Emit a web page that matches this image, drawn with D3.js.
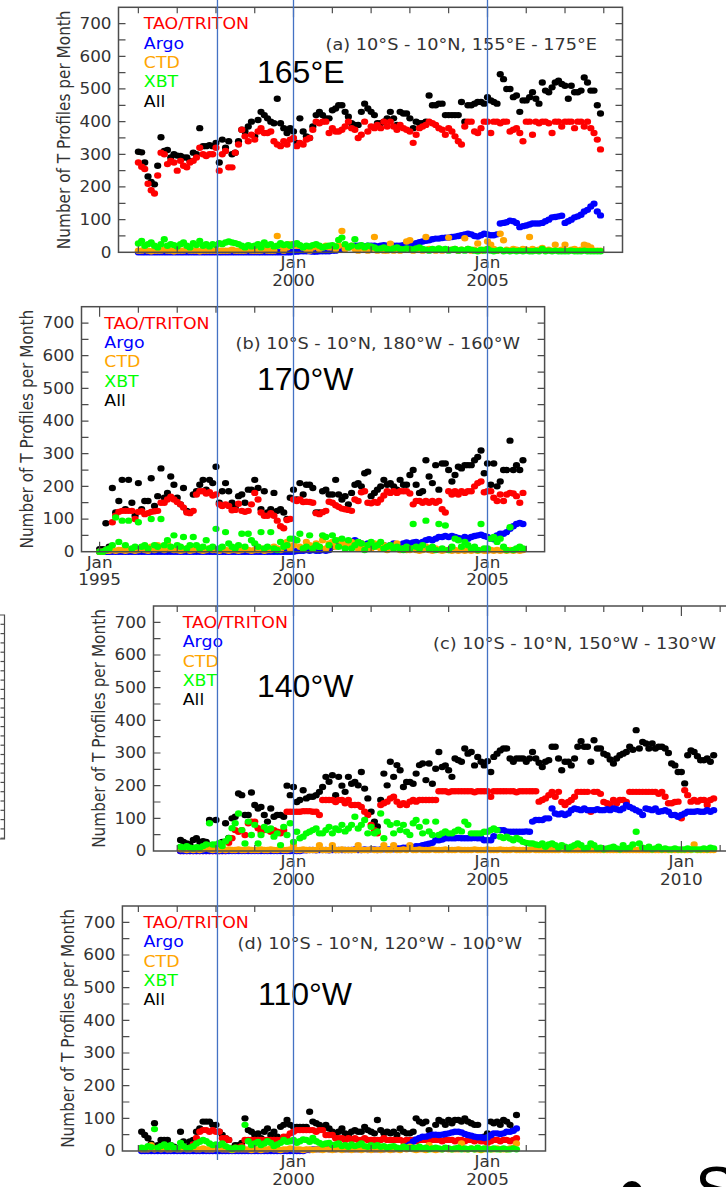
<!DOCTYPE html>
<html>
<head>
<meta charset="utf-8">
<script src="https://cdnjs.cloudflare.com/ajax/libs/d3/7.8.5/d3.min.js"></script>
<style>
  body { margin: 0; background: #fff; }
  svg { display: block; }
</style>
</head>
<body>
<div id="chart"></div>
<script>
// ---- data: monthly T-profile counts ----
// series order inside each panel: All, TAO/TRITON, Argo, CTD, XBT

// (a) 155E-175E, Jan 1996 ..
const startA = [1996, 0];
const allA = [308,306,275,232,215,208,265,352,310,313,290,300,
  296,295,290,290,280,305,300,380,325,325,328,325,
  335,275,345,320,340,300,305,340,375,370,385,400,
  355,405,430,420,410,400,395,470,395,380,365,380,
  370,335,410,370,355,350,385,420,430,420,410,410,
  435,440,450,450,430,415,395,390,390,430,455,440,
  430,420,395,395,400,410,430,410,390,430,425,425,
  410,380,400,395,395,400,480,450,450,455,455,420,
  420,420,420,420,460,400,450,450,455,460,460,455,
  475,465,460,455,545,530,500,500,475,480,430,465,
  465,475,490,470,455,520,495,490,505,520,525,515,
  510,470,510,490,490,495,535,520,495,495,450,425];
const taoA = [275,262,255,210,190,180,235,305,300,270,280,275,
  250,280,265,260,275,280,290,320,300,295,300,300,
  320,250,300,310,260,260,305,330,375,355,340,360,
  345,370,380,365,365,370,340,330,325,340,330,345,
  350,325,335,330,345,350,375,400,395,400,400,365,
  380,370,370,375,385,400,380,375,350,360,400,370,
  385,380,390,380,400,385,400,385,375,390,380,375,
  370,335,360,380,385,390,400,395,390,380,375,360,
  380,370,355,340,330,385,400,400,370,365,380,400,
  400,365,400,400,395,400,400,370,375,380,365,340,
  400,400,360,400,395,400,400,395,365,400,400,385,
  400,400,400,380,400,400,385,400,380,365,345,315];
const argoA = [0,0,0,0,0,0,0,0,0,0,0,0,
  0,0,0,0,0,0,0,0,0,0,0,0,
  0,0,0,0,0,0,0,0,0,0,0,0,
  0,0,0,0,0,0,0,0,0,0,0,0,
  2,2,3,3,3,3,2,2,3,3,3,3,
  5,5,8,10,12,15,18,20,20,20,18,20,
  20,20,18,20,22,20,18,20,20,20,22,22,
  22,25,28,31,33,35,37,40,42,42,44,45,
  45,47,48,50,52,55,57,55,50,48,52,57,
  55,52,52,55,88,90,92,97,95,90,77,80,
  82,85,88,88,88,90,95,100,107,108,110,112,
  90,95,100,107,110,115,125,130,140,149,125,113];
const ctdA = [5,5,8,5,3,5,5,5,8,5,5,3,
  5,5,5,8,5,5,5,3,5,5,5,5,
  5,5,5,5,5,8,5,5,5,5,10,5,
  5,5,5,10,5,5,5,50,20,5,15,25,
  25,20,20,15,10,5,15,20,10,15,20,15,
  15,10,20,65,10,15,20,10,5,15,10,5,
  10,47,5,8,5,5,26,5,10,5,8,33,
  37,5,8,10,5,47,10,8,5,10,5,8,
  45,8,10,5,8,43,10,5,8,27,5,8,
  33,23,10,5,57,37,8,5,10,8,5,10,
  8,47,10,5,8,13,5,8,5,23,5,8,
  23,5,8,10,5,8,23,20,15,5,5,5];
const xbtA = [27,35,20,25,30,20,15,25,40,20,25,22,
  18,25,30,20,15,28,22,35,20,25,18,25,
  22,28,25,30,33,30,28,25,20,15,22,18,
  20,25,15,30,22,25,18,20,28,22,25,20,
  25,28,22,15,20,18,22,25,20,15,18,20,
  22,18,38,45,25,15,20,40,18,22,15,20,
  18,15,10,12,15,10,8,12,15,10,8,12,
  10,8,12,15,10,8,5,10,8,12,8,10,
  5,8,10,5,8,5,10,8,5,3,8,5,
  10,5,3,5,8,3,5,3,5,3,5,3,
  5,3,3,5,3,10,3,5,3,5,3,3,
  3,3,5,3,3,3,5,3,3,3,3,3];

// (b) 180W-160W, Jan 1995 ..
const startB = [1995, 0];
const allB = [8,8,87,15,195,120,155,220,130,220,150,110,
  210,130,155,155,225,140,170,255,165,180,230,205,
  165,145,195,125,120,175,185,205,220,190,220,210,
  260,150,185,210,185,150,135,170,175,150,190,190,
  220,195,130,185,120,130,180,125,130,120,100,165,
  190,160,210,175,205,205,195,120,120,185,190,175,
  175,220,175,160,170,145,180,205,210,200,240,245,
  170,180,190,200,220,205,210,200,190,220,205,205,
  235,250,205,180,185,280,230,210,265,190,270,270,
  250,215,235,260,255,265,265,265,280,290,310,240,
  270,205,270,200,215,250,250,340,250,265,250,280];
const taoB = [0,0,0,0,90,110,122,125,125,125,125,100,
  122,124,115,118,122,124,125,150,150,160,168,160,
  152,145,135,120,118,125,175,185,185,178,182,172,
  175,145,140,145,140,127,128,147,125,122,125,145,
  180,160,120,110,110,118,110,95,78,72,97,100,
  160,155,160,152,153,152,150,118,115,121,125,153,
  150,142,137,132,130,128,125,160,155,182,185,150,
  148,152,150,160,172,185,180,185,180,185,185,185,
  178,145,155,155,150,155,150,155,150,155,130,120,
  185,175,185,175,185,180,185,185,200,210,215,182,
  185,185,165,155,175,155,175,180,178,170,150,180];
const argoB = [0,0,0,0,0,0,0,0,0,0,0,0,
  0,0,0,0,0,0,0,0,0,0,0,0,
  0,0,0,0,0,0,0,0,0,0,0,0,
  0,0,0,0,0,0,0,0,0,0,0,0,
  0,0,0,0,0,0,0,0,0,0,0,0,
  0,2,3,3,5,3,5,3,3,5,3,5,
  15,20,25,30,28,25,30,35,30,25,20,25,
  25,20,22,18,20,15,20,25,22,20,25,28,
  25,28,30,25,30,35,38,35,40,45,45,48,
  45,48,45,42,40,45,40,45,48,50,52,48,
  45,40,38,50,55,55,60,70,78,85,88,85];
const ctdB = [0,0,3,3,5,3,5,5,3,5,5,3,
  5,10,5,3,15,5,20,10,5,25,10,5,
  5,3,5,10,3,5,15,5,3,5,10,5,
  5,3,10,5,3,5,5,3,5,10,5,3,
  5,5,10,3,5,5,15,10,5,25,30,10,
  20,35,15,10,30,20,10,25,15,35,10,25,
  30,15,35,20,25,15,30,20,10,25,15,20,
  10,25,15,10,20,5,15,10,25,5,10,5,
  5,10,5,3,5,15,5,3,10,5,3,5,
  5,3,5,3,5,3,5,3,5,3,5,3,
  3,5,3,5,3,5,3,5,3,5,3,5];
const xbtB = [0,0,5,10,20,105,30,95,20,95,10,15,
  90,15,20,10,100,20,15,100,20,35,15,50,
  20,15,45,10,20,45,20,10,15,35,10,15,
  70,10,15,60,25,15,10,20,55,15,55,35,
  25,15,60,10,15,60,10,5,30,15,20,40,
  40,35,55,10,15,50,10,20,15,50,45,20,
  50,35,15,40,10,35,10,20,30,25,5,20,
  30,15,20,30,10,15,20,10,15,10,5,15,
  10,85,15,10,20,95,10,15,5,85,10,80,
  5,15,40,35,15,30,20,10,15,5,85,10,
  10,40,45,30,40,15,5,75,5,10,15,10];

// (c) 150W-130W, Feb 1997 ..
const startC = [1997, 1];
const allC = [34,28,23,20,34,39,28,30,28,95,13,95,
  20,28,85,40,100,105,176,171,110,110,179,141,
  130,135,110,90,130,105,110,110,105,200,171,196,
  150,156,186,161,166,166,171,181,196,227,212,232,
  171,227,200,181,227,206,211,201,242,191,161,120,
  90,75,156,237,201,273,227,263,247,196,211,211,
  206,237,263,268,217,268,206,252,303,257,262,247,
  227,283,278,273,314,298,303,262,288,273,262,275,
  242,288,298,308,314,314,283,273,283,283,283,273,
  283,303,283,270,257,273,278,319,319,283,247,273,
  273,262,283,319,336,319,319,273,339,314,314,298,
  293,280,268,283,293,298,303,319,310,370,314,334,
  329,314,329,314,319,319,314,300,268,262,242,242,
  207,293,308,303,290,278,278,283,273,293];
const taoC = [0,0,0,0,0,0,0,0,0,0,0,0,
  0,0,0,25,39,64,59,64,49,85,90,90,
  70,59,64,64,59,64,59,54,64,120,120,120,
  120,120,122,122,122,120,120,110,156,156,156,156,
  150,156,156,146,156,141,141,141,135,120,110,80,
  64,54,141,146,151,161,166,151,141,146,141,151,
  156,151,156,156,156,156,156,156,183,183,183,180,
  183,183,183,183,183,183,183,180,183,183,183,183,
  166,183,183,183,183,183,183,183,180,183,183,183,
  183,183,183,151,156,161,171,181,166,181,150,141,
  150,156,166,181,181,181,181,120,181,181,175,150,
  146,141,156,146,156,156,150,181,181,181,181,181,
  181,181,181,181,175,181,166,146,146,150,151,100,
  186,171,151,156,151,156,156,141,156,161];
const argoC = [0,0,0,0,0,0,0,0,0,0,0,0,
  0,0,0,0,0,0,0,0,0,0,0,0,
  0,0,0,0,0,0,0,0,0,0,0,0,
  0,0,2,2,3,3,2,3,3,3,2,3,
  3,3,3,3,3,3,5,3,3,5,3,5,
  5,3,5,5,5,5,5,8,8,10,10,10,
  12,15,15,18,20,22,25,33,33,35,39,39,
  39,39,40,39,39,39,39,40,39,39,33,33,
  33,45,64,64,64,60,59,59,59,59,59,60,
  59,90,95,95,95,100,100,130,115,112,115,110,
  115,125,130,128,125,130,125,125,125,128,125,125,
  128,125,130,128,125,130,141,135,130,125,120,110,
  130,128,125,130,120,122,125,120,110,110,105,110,
  115,120,120,120,122,120,120,125,120,125];
const ctdC = [5,5,3,5,3,5,3,5,10,5,3,5,
  3,5,3,5,3,3,5,3,3,5,3,3,
  3,5,3,3,5,3,3,5,3,3,5,18,
  3,3,5,3,3,3,3,18,3,3,3,18,
  3,3,5,3,3,3,3,18,3,3,3,5,
  3,3,3,18,3,3,18,3,3,5,3,18,
  3,3,5,3,3,3,5,3,3,3,5,3,
  3,3,5,3,3,3,3,5,3,3,3,5,
  3,3,3,5,3,3,3,5,3,3,3,3,
  3,5,3,3,3,3,3,3,3,3,5,3,
  3,3,3,3,3,3,3,3,3,3,3,3,
  3,3,3,3,3,3,3,3,3,3,3,3,
  3,3,3,3,3,3,3,3,3,3,3,3,
  3,3,3,20,3,3,3,3,3,3];
const xbtC = [13,10,15,10,8,12,10,15,20,85,20,20,
  25,15,30,39,70,85,115,64,23,90,49,80,
  23,49,74,64,69,44,54,18,74,49,85,28,
  59,39,44,54,59,64,69,54,54,64,74,54,
  69,64,80,60,69,80,105,69,80,95,54,74,
  54,60,115,39,90,80,54,85,64,80,59,49,
  85,95,74,54,90,60,49,90,49,54,60,54,
  54,60,65,60,90,80,54,54,54,54,59,59,
  64,69,64,44,40,44,38,33,40,35,28,25,
  23,23,20,18,23,13,20,23,18,10,18,13,
  8,13,18,23,18,8,10,23,18,8,10,5,
  8,10,13,8,5,18,8,10,20,59,23,10,
  8,13,5,8,13,5,8,5,5,8,5,5,
  5,8,5,5,5,5,8,5,10,8];

// (d) 120W-100W, Feb 1996 ..
const startD = [1996, 1];
const allD = [59,49,39,22,85,18,34,34,34,18,13,8,
  59,29,13,29,34,59,69,90,90,90,80,80,
  59,49,39,34,8,18,18,25,100,64,59,49,
  54,39,59,69,49,59,44,74,80,95,80,74,
  74,74,74,74,120,90,85,80,69,80,69,59,
  54,59,69,54,49,59,64,59,59,74,64,59,
  54,95,64,54,59,54,59,49,69,59,54,54,
  59,100,90,85,90,64,49,80,95,90,80,95,
  85,95,95,90,100,90,85,80,80,39,44,54,
  90,85,90,80,95,90,80,64,110];
const taoD = [5,5,5,5,5,5,5,5,5,5,5,5,
  5,5,5,10,20,40,59,64,64,59,64,59,
  59,39,39,34,5,10,10,15,34,34,34,34,
  34,34,34,34,34,34,34,34,44,44,54,59,
  64,64,64,64,64,64,59,64,64,49,49,49,
  39,39,39,34,39,34,39,34,34,39,34,34,
  34,34,34,39,34,34,34,34,34,30,34,34,
  34,30,34,34,34,30,34,34,34,30,34,34,
  34,30,34,34,30,34,34,30,34,30,30,25,
  30,34,34,30,34,34,30,34,39];
const argoD = [0,0,0,0,0,0,0,0,0,0,0,0,
  0,0,0,0,0,0,0,0,0,0,0,0,
  0,0,0,0,0,0,0,0,0,0,0,0,
  0,0,0,0,0,0,0,0,0,0,0,0,
  0,0,0,3,3,5,5,5,8,8,5,5,
  5,8,8,5,5,8,5,5,5,8,5,5,
  5,5,5,5,8,5,5,8,5,10,15,20,
  29,35,40,44,44,47,50,50,49,50,52,54,
  57,59,59,57,52,49,47,44,42,42,40,42,
  48,54,54,52,54,59,59,62,69];
const ctdD = [5,5,5,18,5,8,5,10,5,5,8,5,
  5,10,5,5,8,5,5,8,5,5,5,10,
  8,5,5,5,3,5,5,5,5,5,3,5,
  5,3,5,5,8,5,5,3,5,5,8,5,
  5,5,3,5,5,3,5,5,3,5,5,3,
  5,5,3,5,5,3,5,5,3,5,5,3,
  5,5,3,5,5,3,5,5,3,13,5,13,
  5,3,5,5,3,18,5,3,5,5,8,5,
  5,5,5,23,5,5,8,5,5,3,5,8,
  5,5,8,5,5,5,8,10,23];
const xbtD = [10,8,15,12,67,10,15,20,10,18,10,8,
  25,15,8,10,15,23,28,34,30,23,18,20,
  18,23,15,10,5,10,8,10,80,30,18,23,
  28,18,23,30,25,15,20,25,34,28,30,34,
  25,30,35,34,28,40,30,25,20,23,25,18,
  20,23,15,18,13,20,15,18,23,15,13,18,
  15,18,13,15,10,13,15,10,8,13,10,8,
  10,8,13,8,10,5,8,10,8,5,10,8,
  5,8,10,5,8,5,8,5,10,5,8,5,
  5,8,5,5,8,5,5,8,5];

const seriesNames = ["TAO/TRITON", "Argo", "CTD", "XBT", "All"];
const seriesColors = { "TAO/TRITON": "#ff0000", "Argo": "#0000ff", "CTD": "#ffa500", "XBT": "#00ff00", "All": "#000000" };
const drawOrder = ["All", "TAO/TRITON", "Argo", "CTD", "XBT"];
const yTicks = [0, 100, 200, 300, 400, 500, 600, 700];
const markerDates = [new Date(1998, 0, 15), new Date(2000, 0, 1), new Date(2005, 0, 1)];

// ---- layout ----
const W = 726, H = 1187;
const SX = 1.12;   // the source figure's text is a little wider than tall
const panels = [
  { title: "(a) 10°S - 10°N, 155°E - 175°E", region: "165°E", start: startA,
    data: { "All": allA, "TAO/TRITON": taoA, "Argo": argoA, "CTD": ctdA, "XBT": xbtA },
    left: 118.5, right: 622.5, bottom: 252.3, legendX: 143.8, titleRight: 597, regionXY: [257, 83.3] },
  { title: "(b) 10°S - 10°N, 180°W - 160°W", region: "170°W", start: startB,
    data: { "All": allB, "TAO/TRITON": taoB, "Argo": argoB, "CTD": ctdB, "XBT": xbtB },
    left: 81.5, right: 544.6, bottom: 551.7, legendX: 104.3, titleRight: 520, regionXY: [257, 390] },
  { title: "(c) 10°S - 10°N, 150°W - 130°W", region: "140°W", start: startC,
    data: { "All": allC, "TAO/TRITON": taoC, "Argo": argoC, "CTD": ctdC, "XBT": xbtC },
    left: 153.5, right: 760, bottom: 851, legendX: 182.7, titleRight: 716, regionXY: [257, 696.7] },
  { title: "(d) 10°S - 10°N, 120°W - 100°W", region: "110°W", start: startD,
    data: { "All": allD, "TAO/TRITON": taoD, "Argo": argoD, "CTD": ctdD, "XBT": xbtD },
    left: 122.4, right: 545.5, bottom: 1151, legendX: 143.5, titleRight: 522, regionXY: [258, 1005] }
];

const svg = d3.select("#chart").append("svg")
  .attr("width", W).attr("height", H)
  .attr("viewBox", `0 0 ${W} ${H}`);

// one time axis shared by all four panels
const x = d3.scaleTime()
  .domain([new Date(2000, 0, 1), new Date(2005, 0, 1)])
  .range([293.5, 487.5]);

function addText(g, px, py, str, o = {}) {
  let tf = `translate(${px},${py}) scale(${o.sx === undefined ? SX : o.sx},1)`;
  if (o.rotate) tf += ` rotate(${o.rotate})`;
  return g.append("text")
    .attr("transform", tf)
    .attr("text-anchor", o.anchor || "start")
    .attr("dy", o.dy || null)
    .attr("font-family", o.family || "'DejaVu Sans', sans-serif")
    .attr("font-size", o.size || 15)
    .attr("fill", o.color || "#333")
    .text(str);
}

const axisColor = "#4d4d4d";

panels.forEach(p => {
  const g = svg.append("g");
  const y = d3.scaleLinear().domain([0, 750]).range([p.bottom, p.bottom - 245]);
  const top = y(750);

  // points
  drawOrder.forEach(name => {
    const vals = p.data[name];
    const pts = vals.map((v, i) => ({ d: new Date(p.start[0], p.start[1] + i, 1), v }));
    g.append("g").selectAll("ellipse").data(pts).join("ellipse")
      .attr("cx", d => x(d.d))
      .attr("cy", d => y(d.v))
      .attr("rx", 3.6).attr("ry", 3.2)
      .attr("fill", seriesColors[name]);
  });

  // frame
  g.append("rect")
    .attr("x", p.left).attr("y", top)
    .attr("width", p.right - p.left).attr("height", p.bottom - top)
    .attr("fill", "none").attr("stroke", axisColor).attr("stroke-width", 1.5);

  // y ticks every 50, inward on both sides
  const yMinor = d3.range(50, 750, 50);
  g.append("g").selectAll("path").data(yMinor).join("path")
    .attr("d", v => `M${p.left},${y(v)}h7M${p.right},${y(v)}h-7`)
    .attr("stroke", axisColor).attr("stroke-width", 1.2);
  yTicks.forEach(v => addText(g, p.left - 7, y(v), String(v), { anchor: "end", dy: "0.36em" }));

  // x ticks at each January
  const years = d3.timeYear.range(x.invert(p.left), x.invert(p.right))
    .filter(d => x(d) > p.left + 1 && x(d) < p.right - 1);
  g.append("g").selectAll("path").data(years).join("path")
    .attr("d", d => {
      const len = d.getFullYear() % 5 === 0 ? 10 : 6;
      return `M${x(d)},${p.bottom}v${-len}M${x(d)},${top}v${len}`;
    })
    .attr("stroke", axisColor).attr("stroke-width", 1.2);
  years.filter(d => d.getFullYear() % 5 === 0).forEach(d => {
    addText(g, x(d), p.bottom + 16, "Jan", { anchor: "middle" });
    addText(g, x(d), p.bottom + 33.6, String(d.getFullYear()), { anchor: "middle" });
  });

  // y axis title
  addText(g, p.left - 55, (top + p.bottom) / 2, "Number of T Profiles per Month",
    { anchor: "middle", rotate: -90, dy: "0.36em", size: 15.3 });

  // legend
  seriesNames.forEach((name, i) => {
    addText(g, p.legendX, top + 22 + i * 19.3, name, { color: seriesColors[name], size: 15.5 });
  });

  // panel title
  addText(g, p.titleRight, top + 42.5, p.title, { anchor: "end", size: 15.8 });

  // longitude annotation
  addText(g, p.regionXY[0], p.regionXY[1], p.region,
    { sx: 1, size: 32, color: "#000", family: "'Liberation Sans', Arial, sans-serif" });
});

// vertical guide lines laid over all panels
svg.append("g").selectAll("line").data(markerDates).join("line")
  .attr("x1", d => x(d)).attr("x2", d => x(d))
  .attr("y1", 0).attr("y2", 1160)
  .attr("stroke", "#4472c4").attr("stroke-width", 1.3);

// edge of a neighbouring figure on the left
const edge = svg.append("g").attr("stroke", axisColor).attr("stroke-width", 1.2).attr("fill", "none");
edge.append("path").attr("d", "M0,615H4.5V839H0");
edge.selectAll("path.t").data(d3.range(624.3, 839, 9.3)).join("path").attr("class", "t")
  .attr("d", v => `M4.5,${v}h-4`);

// cut-off text at the bottom right
svg.append("circle").attr("cx", 632).attr("cy", 1191).attr("r", 10).attr("fill", "#000");
svg.append("text").attr("x", 695).attr("y", 1212)
  .attr("font-family", "'Liberation Sans', Arial, sans-serif").attr("font-size", 64)
  .attr("fill", "#000").text("S");
</script>
</body>
</html>
